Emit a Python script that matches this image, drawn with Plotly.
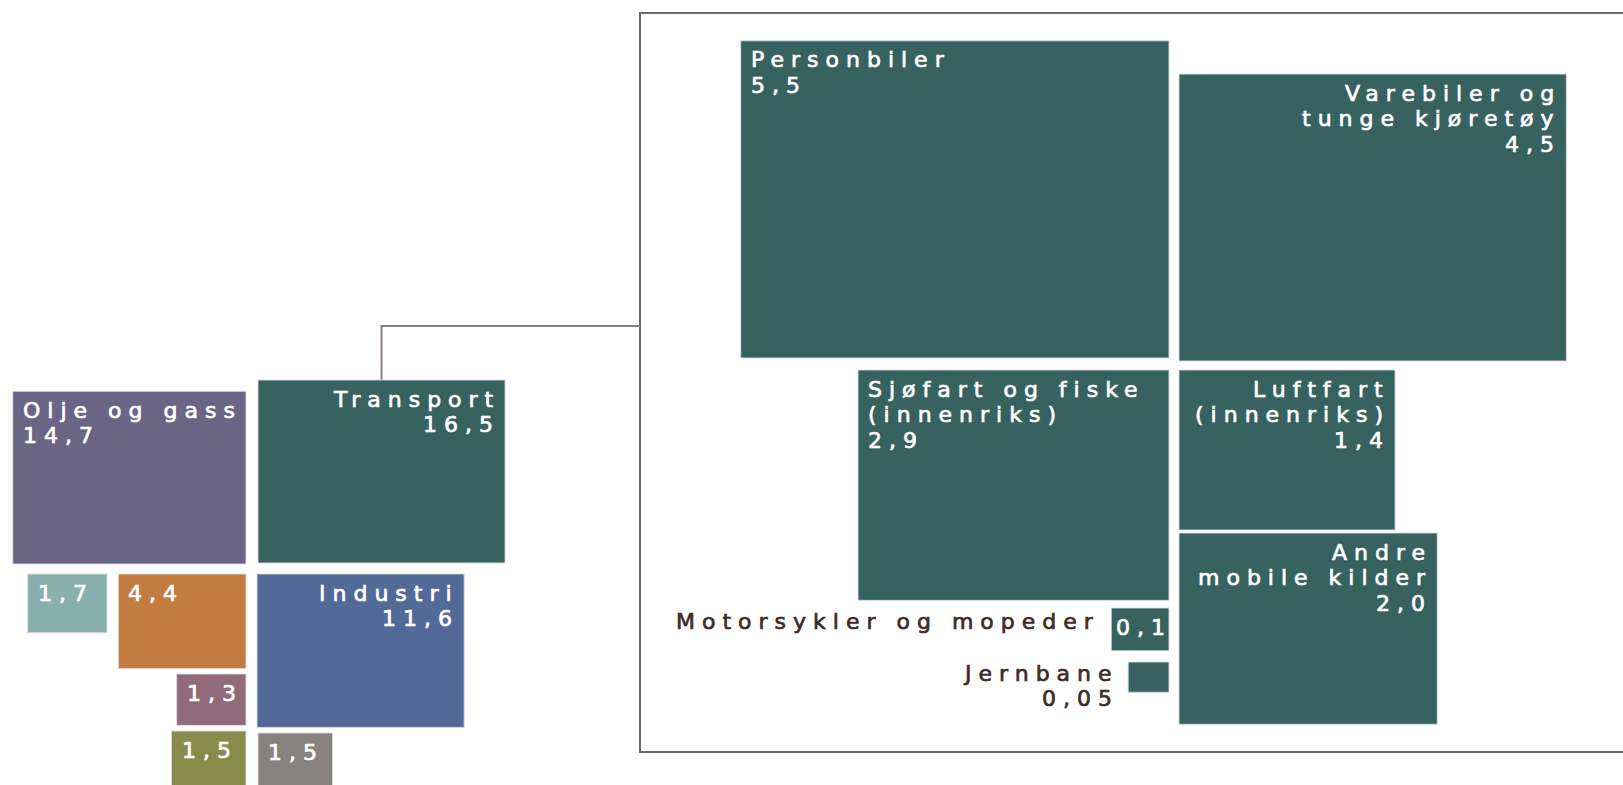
import plotly.graph_objects as go

# utslipp per kilde (mill. tonn CO2-ekvivalenter)
sektor_navn = ["Olje og gass", "Transport", "Industri", "", "", "", "", ""]
sektor_verdi = [14.7, 16.5, 11.6, 1.7, 4.4, 1.3, 1.5, 1.5]

transport_navn = ["Personbiler", "Varebiler og<br>tunge kjøretøy", "Sjøfart og fiske<br>(innenriks)",
                  "Luftfart<br>(innenriks)", "Andre<br>mobile kilder", "Motorsykler og mopeder", "Jernbane"]
transport_verdi = [5.5, 4.5, 2.9, 1.4, 2.0, 0.1, 0.05]

# plassering: (ankerpunkt x, y, hjørne) og etikettplassering
sektor_anker = [(246, 564, "rb"), (258, 563, "lb"), (257, 574, "lt"), (107, 574, "rt"),
                (246, 574, "rt"), (246, 674, "rt"), (246, 731, "rt"), (258, 733, "lt")]
sektor_etikett = ["tl", "tr", "tr", "tl", "tl", "tl", "tl", "tl"]
sektor_farge = ["#6a6485", "#37625f", "#516a98", "#8ab0ae", "#c47b3f", "#926b7b", "#878c4a", "#858280"]

transport_anker = [(1169, 358, "rb"), (1179, 361, "lb"), (1169, 370, "rt"), (1179, 370, "lt"),
                   (1179, 533, "lt"), (1169, 608, "rt"), (1169, 662, "rt")]
transport_etikett = ["tl", "tr", "tl", "tr", "tr", "split", "out"]
transport_farge = "#37625f"

SKALA_VENSTRE = 2740   # px^2 per enhet
SKALA_HOYRE = 24700
FORHOLD = 1.35         # bredde / hoyde
W, H = 1623, 785
LS = 7                 # bokstavavstand
LINJE = 25.5           # linjeavstand
FONT = 22


def fmt(v):
    s = f"{v:.2f}" if v < 0.1 else f"{v:.1f}"
    return s.replace(".", ",")


def rect(v, skala, anker):
    ax, ay, c = anker
    b = (v * skala * FORHOLD) ** 0.5
    h = (v * skala / FORHOLD) ** 0.5
    x0 = ax if c[0] == "l" else ax - b
    y0 = ay if c[1] == "t" else ay - h
    return x0, y0, x0 + b, y0 + h


fig = go.Figure()
ann = []


def tekstlinjer(tekst, x, y, side, farge):
    stil = f"letter-spacing:{LS}px;stroke:{farge};stroke-width:0.7px"
    for j, t in enumerate(tekst.split("<br>")):
        ann.append(dict(x=x, y=y + j * LINJE, text=f'<span style="{stil}">{t}</span>',
                        xanchor=side, yanchor="middle", align=side,
                        font=dict(family="DejaVu Sans", size=FONT, color=farge)))


def legg_til(navn, verdi, skala, anker, etikett, farge):
    x0, y0, x1, y1 = rect(verdi, skala, anker)
    fig.add_trace(go.Scatter(
        x=[x0, x1, x1, x0, x0], y=[y0, y0, y1, y1, y0], fill="toself", fillcolor=farge,
        mode="lines", line=dict(color="rgba(215,222,222,0.9)", width=1),
        hoverinfo="text", text=f"{navn.replace('<br>', ' ')} {fmt(verdi)}", showlegend=False))
    tekst = (navn + "<br>" if navn else "") + fmt(verdi)
    if etikett == "tl":
        tekstlinjer(tekst, x0 + 8, y0 + 19, "left", "#ffffff")
    elif etikett == "tr":
        tekstlinjer(tekst, x1 - 3, y0 + 19, "right", "#ffffff")
    elif etikett == "split":
        tekstlinjer(fmt(verdi), x0 + 3, y0 + 19, "left", "#ffffff")
        tekstlinjer(navn, x0 - 9, y0 + 13, "right", "#3d2b26")
    else:
        tekstlinjer(tekst, x0 - 7, y0 + 11, "right", "#3d2b26")
    return x0, y0, x1, y1


rects = []
for i in range(len(sektor_verdi)):
    rects.append(legg_til(sektor_navn[i], sektor_verdi[i], SKALA_VENSTRE, sektor_anker[i],
                          sektor_etikett[i], sektor_farge[i]))
for i in range(len(transport_verdi)):
    legg_til(transport_navn[i], transport_verdi[i], SKALA_HOYRE, transport_anker[i],
             transport_etikett[i], transport_farge)

# ramme rundt transportdetaljene
boks = (640, 13, 1650, 752)
shapes = [dict(type="rect", xref="x", yref="y", x0=boks[0], y0=boks[1], x1=boks[2], y1=boks[3],
               line=dict(color="#6a6a6a", width=2), layer="below")]
# forbindelseslinje fra Transport
tx0, ty0, tx1, ty1 = rects[1]
cx = (tx0 + tx1) / 2
shapes.append(dict(type="path", xref="x", yref="y",
                   path=f"M {cx} {ty0} L {cx} 326 L {boks[0]} 326",
                   line=dict(color="#8b807b", width=2), layer="below"))

for a in ann:
    a.update(xref="x", yref="y", showarrow=False)

fig.update_layout(
    width=W, height=H, margin=dict(l=0, r=0, t=0, b=0),
    plot_bgcolor="white", paper_bgcolor="white",
    xaxis=dict(range=[0, W], visible=False, fixedrange=True),
    yaxis=dict(range=[H, 0], visible=False, fixedrange=True),
    shapes=shapes, annotations=ann,
)

fig.write_html("out.html", config={"displayModeBar": False},
               post_script="document.body.style.margin='0';document.body.style.overflow='hidden';")
